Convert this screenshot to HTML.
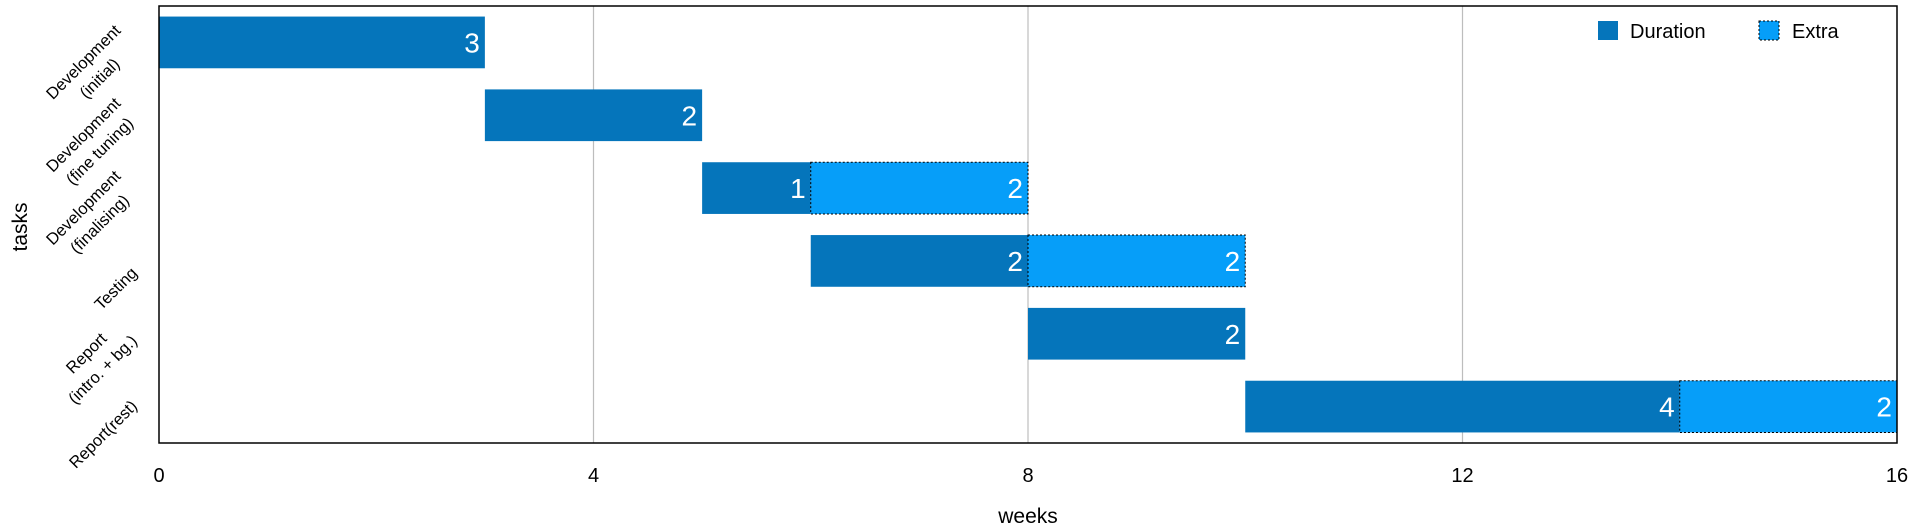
<!DOCTYPE html>
<html><head><meta charset="utf-8"><style>
html,body{margin:0;padding:0;background:#fff;}
svg{display:block;font-family:"Liberation Sans",sans-serif;}
</style></head><body>
<svg id="chart" width="1920" height="531" xmlns="http://www.w3.org/2000/svg">
<g id="grid"></g>
<g id="bars"></g>
<rect x="159" y="6" width="1738" height="437" fill="none" stroke="#000" stroke-width="1.5"/>
<g id="xticks"></g>
<g id="ylabels"></g>
<text x="1028" y="523" font-size="21" text-anchor="middle" fill="#000">weeks</text>
<text transform="translate(27,227) rotate(-90)" font-size="21" text-anchor="middle" fill="#000">tasks</text>
<g>
  <g>
    <rect x="1598" y="21" width="20" height="19" fill="#0575BB"/>
    <text x="1630" y="38" font-size="20" fill="#000">Duration</text>
  </g>
  <g>
    <rect x="1759" y="21" width="20" height="19" fill="#069EF9" stroke="#000" stroke-width="1" stroke-dasharray="2,2"/>
    <text x="1792" y="38" font-size="20" fill="#000">Extra</text>
  </g>
</g>
</svg>
<script>
const tasks = [["Development","(initial)"],["Development","(fine tuning)"],["Development","(finalising)"],["Testing"],["Report","(intro. + bg.)"],["Report(rest)"]];
const starts = [0,3,5,6,8,10];
const durations = [3,2,1,2,2,4];
const extras = [0,0,2,2,0,2];
const xTicks = [0,4,8,12,16];

const NS="http://www.w3.org/2000/svg";
const X0=159,X1=1897,Y0=6,Y1=443,XMAX=16;
const band=(Y1-Y0)/tasks.length, barH=band*0.71;
function x(v){return X0+(X1-X0)*v/XMAX;}
function yc(i){return Y0+band*(i+0.5);}
function mk(tag,attrs,parent){const e=document.createElementNS(NS,tag);for(const k in attrs)e.setAttribute(k,attrs[k]);parent.appendChild(e);return e;}

const grid=document.getElementById('grid'), xt=document.getElementById('xticks');
xTicks.forEach(t=>{
  if(t>0&&t<XMAX){const l=mk('line',{x1:x(t),x2:x(t),y1:Y0,y2:Y1,stroke:'#bdbdbd','stroke-width':1.2},grid);
    
    }
  const tx=mk('text',{x:x(t),y:482,'font-size':20,'text-anchor':'middle',fill:'#000'},xt);
  tx.textContent=t;
  
  
});

const bars=document.getElementById('bars');
tasks.forEach((t,i)=>{
  const top=yc(i)-barH/2;
  const a=x(starts[i]), b=x(starts[i]+durations[i]);
  const r=mk('rect',{x:a,y:top,width:b-a,height:barH,fill:'#0575BB'},bars);
  
  
  const lt=mk('text',{x:b-5,y:yc(i)+10,'font-size':28,'text-anchor':'end',fill:'#fff'},bars);
  lt.textContent=durations[i];
  
  
  if(extras[i]>0){
    const c=x(starts[i]+durations[i]+extras[i]);
    const e=mk('rect',{x:b,y:top,width:c-b,height:barH,fill:'#069EF9',stroke:'#000','stroke-width':1,'stroke-dasharray':'2,2'},bars);
    
    
    const et=mk('text',{x:c-5,y:yc(i)+10,'font-size':28,'text-anchor':'end',fill:'#fff'},bars);
    et.textContent=extras[i];
    
    
  }
});

const yl=document.getElementById('ylabels');
tasks.forEach((lines,i)=>{
  const outer=mk('g',{},yl);
  
  
  const g=mk('g',{transform:'rotate(-45)'},outer);
  const texts=lines.map((s,k)=>{const t=mk('text',{x:0,y:k*23,'font-size':16.5,'text-anchor':'middle',fill:'#000'},g);t.textContent=s;return t;});
  const bb=outer.getBoundingClientRect();
  const dx=141-bb.right, dy=yc(i)+28-(bb.top+bb.bottom)/2;
  outer.setAttribute('transform','translate('+dx+','+dy+')');
});
</script>
</body></html>
